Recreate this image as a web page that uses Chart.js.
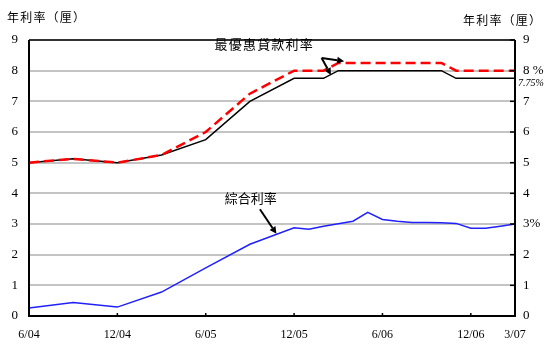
<!DOCTYPE html>
<html lang="zh-Hant">
<head>
    <meta charset="UTF-8">
    <title>利率走勢</title>
    <style>
        body { margin: 0; padding: 0; background: #fff; }
        #wrap { width: 553px; height: 351px; position: relative; }
    </style>
</head>
<body>
    <div id="wrap"><canvas id="chart"></canvas></div>

    <script src="https://cdn.jsdelivr.net/npm/chart.js"></script>
    <script>
        // monthly categories, 6/04 .. 3/07
        const months = [
            '6/04', '7/04', '8/04', '9/04', '10/04', '11/04', '12/04',
            '1/05', '2/05', '3/05', '4/05', '5/05', '6/05', '7/05', '8/05', '9/05', '10/05', '11/05', '12/05',
            '1/06', '2/06', '3/06', '4/06', '5/06', '6/06', '7/06', '8/06', '9/06', '10/06', '11/06', '12/06',
            '1/07', '2/07', '3/07'
        ];
        const shownLabels = ['6/04', '12/04', '6/05', '12/05', '6/06', '12/06', '3/07'];

        // null = no reading that month, line is drawn straight across
        const primeLow = [
            5.0, null, null, 5.125, null, null, 5.0,
            null, null, 5.25, null, null, 5.75, null, null, 7.0, null, null, 7.75,
            7.75, 7.75, 8.0, 8.0, 8.0, 8.0, 8.0, 8.0, 8.0, 8.0, 7.75, 7.75,
            7.75, 7.75, 7.75
        ];
        const primeHigh = [
            5.0, null, null, 5.125, null, null, 5.0,
            null, null, 5.25, null, null, 6.0, null, null, 7.25, null, null, 8.0,
            8.0, 8.0, 8.25, 8.25, 8.25, 8.25, 8.25, 8.25, 8.25, 8.25, 8.0, 8.0,
            8.0, 8.0, 8.0
        ];
        const composite = [
            0.26, null, null, 0.44, null, null, 0.29,
            null, null, 0.78, null, null, 1.57, null, null, 2.34, null, null, 2.88,
            2.83, 2.93, 3.01, 3.09, 3.38, 3.15, 3.09, 3.05, 3.05, 3.04, 3.02, 2.86,
            2.86, 2.93, 3.0
        ];
        const yTicks = [0, 1, 2, 3, 4, 5, 6, 7, 8, 9];

        const cjk = '"Noto Sans CJK TC", "Noto Sans CJK SC", sans-serif';
        const num = '"Liberation Serif", "DejaVu Serif", serif';

        function arrow(ctx, x1, y1, x2, y2) {
            const a = Math.atan2(y2 - y1, x2 - x1);
            const len = 7, w = 3.5;
            const bx = x2 - len * Math.cos(a), by = y2 - len * Math.sin(a);
            ctx.beginPath();
            ctx.moveTo(x1, y1);
            ctx.lineTo(bx, by);
            ctx.stroke();
            ctx.beginPath();
            ctx.moveTo(x2, y2);
            ctx.lineTo(bx + w * Math.sin(a), by - w * Math.cos(a));
            ctx.lineTo(bx - w * Math.sin(a), by + w * Math.cos(a));
            ctx.closePath();
            ctx.fill();
        }

        const frame = {
            id: 'frame',
            afterDatasetsDraw(chart) {
                const { ctx, chartArea: ca, scales } = chart;
                const x = scales.x, y = scales.y;
                const px = i => x.getPixelForValue(i);
                const py = v => y.getPixelForValue(v);
                ctx.save();

                // box
                ctx.strokeStyle = '#000';
                ctx.lineWidth = 1.5;
                ctx.beginPath();
                ctx.moveTo(ca.left, ca.top);
                ctx.lineTo(ca.right, ca.top);
                ctx.stroke();
                ctx.lineWidth = 2;
                ctx.beginPath();
                ctx.moveTo(ca.left, ca.top);
                ctx.lineTo(ca.left, ca.bottom);
                ctx.lineTo(ca.right, ca.bottom);
                ctx.lineTo(ca.right, ca.top);
                ctx.stroke();

                // inward ticks, right axis and bottom axis
                ctx.lineWidth = 1.5;
                yTicks.forEach(v => {
                    ctx.beginPath();
                    ctx.moveTo(ca.right - 5, py(v));
                    ctx.lineTo(ca.right, py(v));
                    ctx.stroke();
                });
                shownLabels.forEach(l => {
                    const xp = px(months.indexOf(l));
                    ctx.beginPath();
                    ctx.moveTo(xp, ca.bottom - 3);
                    ctx.lineTo(xp, ca.bottom);
                    ctx.stroke();
                });

                // axis titles
                ctx.fillStyle = '#000';
                ctx.font = '12px ' + cjk;
                ctx.textBaseline = 'middle';
                ctx.textAlign = 'left';
                ctx.letterSpacing = '1.2px';
                ctx.fillText('年利率（厘）', 7, 17);
                ctx.fillText('年利率（厘）', 463, 20);

                // extra right label
                ctx.letterSpacing = '0px';
                ctx.font = 'italic 10px ' + num;
                ctx.fillText('7.75%', 518, 83);

                // annotations
                ctx.font = '13px ' + cjk;
                ctx.letterSpacing = '1.2px';
                ctx.fillText('最優惠貸款利率', px(12.6), py(8.88));
                ctx.letterSpacing = '0px';
                ctx.fillText('綜合利率', px(13.3), py(3.85));

                ctx.lineWidth = 2;
                arrow(ctx, px(19.87), py(8.41), px(21.4), py(8.31));
                arrow(ctx, px(19.87), py(8.41), px(20.5), py(7.86));
                arrow(ctx, px(15.68), py(3.48), px(16.8), py(2.68));

                ctx.restore();
            }
        };

        new Chart(document.getElementById('chart'), {
            type: 'line',
            data: {
                labels: months,
                datasets: [
                    {
                        label: '最優惠貸款利率（上限）',
                        data: primeHigh,
                        borderColor: '#ff0000',
                        borderWidth: 2.5,
                        borderDash: [10, 5],
                        order: 0
                    },
                    {
                        label: '最優惠貸款利率（下限）',
                        data: primeLow,
                        borderColor: '#000000',
                        borderWidth: 1.5,
                        order: 1
                    },
                    {
                        label: '綜合利率',
                        data: composite,
                        borderColor: '#2020ff',
                        borderWidth: 1.5,
                        order: 2
                    }
                ]
            },
            options: {
                responsive: true,
                maintainAspectRatio: false,
                animation: false,
                spanGaps: true,
                elements: {
                    point: { radius: 0 },
                    line: { tension: 0, borderCapStyle: 'butt', borderJoinStyle: 'miter' }
                },
                layout: { padding: { top: 40, left: 0, right: 0, bottom: 0 } },
                plugins: {
                    legend: { display: false },
                    tooltip: { enabled: false }
                },
                scales: {
                    x: {
                        offset: false,
                        grid: { display: false },
                        border: { display: false },
                        ticks: {
                            autoSkip: false,
                            maxRotation: 0,
                            padding: 4,
                            color: '#000',
                            font: { family: num, size: 12 },
                            callback: function (v, i) {
                                const l = months[i];
                                return shownLabels.includes(l) ? l : '';
                            }
                        },
                        afterFit: s => { s.height = 35; }
                    },
                    y: {
                        min: 0,
                        max: 9,
                        grid: { color: '#c4c4c4', lineWidth: 2, drawTicks: false },
                        border: { display: false },
                        ticks: {
                            stepSize: 1,
                            padding: 11,
                            color: '#000',
                            font: { family: num, size: 13 }
                        },
                        afterFit: s => { s.width = 29; }
                    },
                    y2: {
                        position: 'right',
                        min: 0,
                        max: 9,
                        grid: { drawOnChartArea: false, drawTicks: false },
                        border: { display: false },
                        ticks: {
                            stepSize: 1,
                            padding: 8,
                            color: '#000',
                            font: { family: num, size: 13 },
                            callback: v => v === 8 ? '8 %' : v === 3 ? '3%' : v
                        },
                        afterFit: s => { s.width = 38; }
                    }
                }
            },
            plugins: [frame]
        });
    </script>
</body>
</html>
